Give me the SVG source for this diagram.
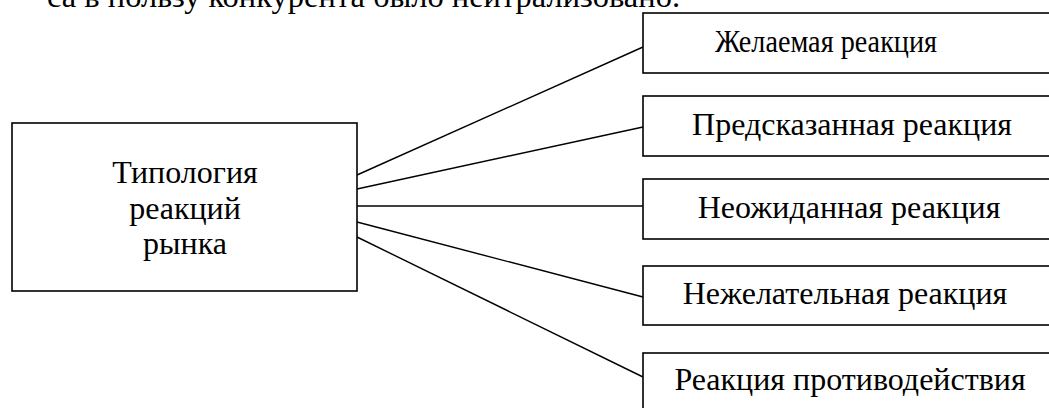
<svg xmlns="http://www.w3.org/2000/svg" width="1049" height="408" viewBox="0 0 1049 408">
<style>
.box{fill:#fff;stroke:#000;stroke-width:1.6}
.t{font-family:"Liberation Serif","Times New Roman",serif;font-size:32px;fill:#000}
.c{stroke:#000;stroke-width:1.4;fill:none}
</style>
<rect width="1049" height="408" fill="#fff"/>
<text class="t" x="47" y="7" textLength="633" lengthAdjust="spacingAndGlyphs">са в пользу конкурента было нейтрализовано.</text>
<g id="connectors">
<line class="c" x1="357" y1="175" x2="643" y2="47"/>
<line class="c" x1="357" y1="189" x2="643" y2="127"/>
<line class="c" x1="357" y1="206" x2="643" y2="206"/>
<line class="c" x1="357" y1="222" x2="643" y2="297"/>
<line class="c" x1="357" y1="237" x2="643" y2="377"/>
</g>
<g id="main">
<rect class="box" x="12" y="123" width="345" height="168"/>
<text class="t" text-anchor="middle" x="185" y="183">Типология</text>
<text class="t" text-anchor="middle" x="185" y="219">реакций</text>
<text class="t" text-anchor="middle" x="185" y="254">рынка</text>
</g>
<g id="n1">
<rect class="box" x="643" y="13" width="412" height="60"/>
<text class="t" text-anchor="middle" x="826" y="52" textLength="222" lengthAdjust="spacingAndGlyphs">Желаемая реакция</text>
</g>
<g id="n2">
<rect class="box" x="643" y="96" width="412" height="60"/>
<text class="t" text-anchor="middle" x="852" y="135">Предсказанная реакция</text>
</g>
<g id="n3">
<rect class="box" x="643" y="179" width="412" height="60"/>
<text class="t" text-anchor="middle" x="849" y="218">Неожиданная реакция</text>
</g>
<g id="n4">
<rect class="box" x="643" y="266" width="412" height="59"/>
<text class="t" text-anchor="middle" x="845" y="304">Нежелательная реакция</text>
</g>
<g id="n5">
<rect class="box" x="643" y="353" width="412" height="60"/>
<text class="t" text-anchor="middle" x="850" y="390">Реакция противодействия</text>
</g>
</svg>
